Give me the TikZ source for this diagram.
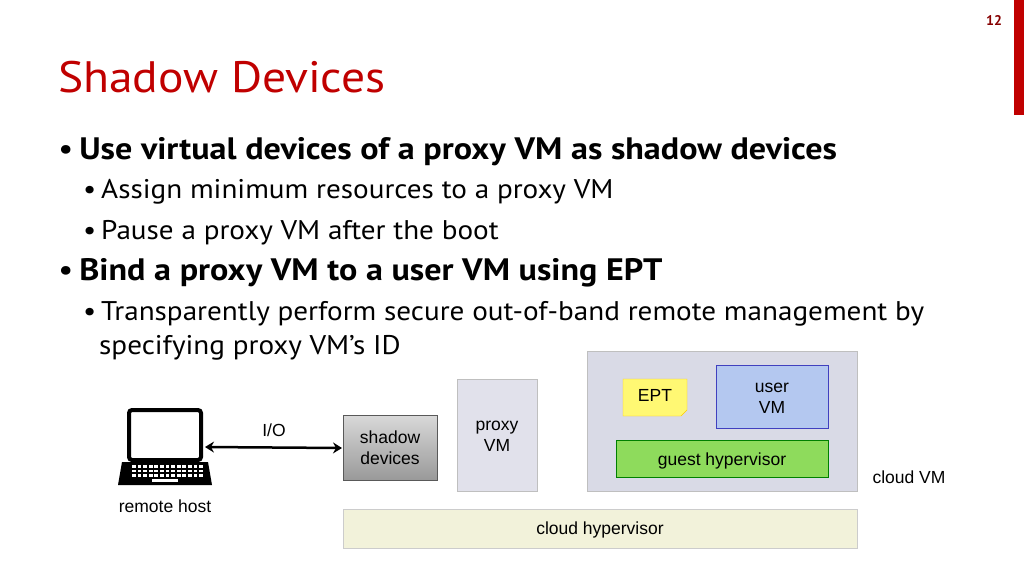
\documentclass[tikz,border=0pt]{standalone}
\usepackage{fontspec}
\usetikzlibrary{arrows.meta}
\setmainfont{PT Sans}
\newfontfamily\arialf{Liberation Sans}
\definecolor{cvmc}{HTML}{D9DAE6}
\definecolor{uvmc}{HTML}{B4C8F0}
\definecolor{ghc}{HTML}{8EDB5C}
\definecolor{chc}{HTML}{F2F2DA}
\definecolor{titc}{HTML}{C00000}
\newcommand{\hs}[1]{\scalebox{1.08}[1]{#1}}
\begin{document}
\begin{tikzpicture}[x=1pt,y=-1pt,
  lbl/.style={font=\arialf\fontsize{17.5}{21}\selectfont,align=center},
  bul/.style={anchor=west,inner sep=0pt}]
\useasboundingbox (0,0) rectangle (1024,576);
\fill[titc] (1014,0) rectangle (1024,115);
\node (pg) at (994,20) {\fontsize{14}{16}\selectfont\textcolor{titc!70!black}{\textbf{12}}};
\node[bul,text=titc] (title) at (58,77) {\hs{\fontsize{44}{48}\selectfont Shadow Devices}};
\node[bul] (b1) at (58,152) {\scalebox{1.1}[1]{\fontsize{31}{34}\selectfont\textbullet\,\textbf{Use virtual devices of a proxy VM as shadow devices}}};
\node[bul] (b2) at (83,192) {\hs{\fontsize{27}{30}\selectfont\textbullet\,Assign minimum resources to a proxy VM}};
\node[bul] (b3) at (83,233) {\hs{\fontsize{27}{30}\selectfont\textbullet\,Pause a proxy VM after the boot}};
\node[bul] (b4) at (58,273) {\scalebox{1.1}[1]{\fontsize{31}{34}\selectfont\textbullet\,\textbf{Bind a proxy VM to a user VM using EPT}}};
\node[bul] (b5) at (83,314) {\hs{\fontsize{27}{30}\selectfont\textbullet\,Transparently perform secure out-of-band remote management by}};
\node[bul] (b6) at (99,348) {\hs{\fontsize{27}{30}\selectfont specifying proxy VM's ID}};
% diagram
\draw[fill=chc,draw=black!20] (343,509) rectangle (857,548);
\node[lbl] (ch) at (600,530) {cloud hypervisor};
\draw[fill=cvmc,draw=black!25] (587,351) rectangle (857,491);
\node[lbl,anchor=west] (cvm) at (869,477) {cloud VM};
\draw[fill=cvmc!80!white,draw=black!25] (457,379) rectangle (537,491);
\node[lbl] (pvm) at (497,436) {proxy\\VM};
\shade[top color=black!15,bottom color=black!40] (343,415) rectangle (437,480);
\draw[black!65,line width=0.8pt] (343,415) rectangle (437,480);
\node[lbl] (sd) at (390,448) {shadow\\devices};
\draw[fill=yellow!55,draw=orange!40!yellow] (623,379) -- (687,379) -- (687,410) -- (681,416) -- (623,416) -- cycle;
\node[lbl] (ept) at (655,395) {EPT};
\draw[fill=uvmc,draw=blue!50!gray] (716,365) rectangle (828,428);
\node[lbl] (uvm) at (772,398) {user\\VM};
\draw[fill=ghc,draw=green!50!black] (616,440) rectangle (828,477);
\node[lbl] (gh) at (722,461) {guest hypervisor};
% laptop
\draw[line width=4pt,rounded corners=3pt] (129,410) rectangle (201,460);
\fill (122,462) -- (208,462) -- (212,485) -- (118,485) -- cycle;
\foreach \r in {0,1,2} \foreach \c in {0,...,12}
  \fill[white] (132+\c*5.6,465+\r*4.5) rectangle ++(3.8,2.8);
\fill[white] (152,479) rectangle (178,482);
\coordinate (lap) at (205,447);
\node[lbl] (rh) at (165,506) {remote host};
\draw[{Stealth[length=9pt,width=11pt,inset=3pt]}-{Stealth[length=9pt,width=11pt,inset=3pt]},line width=2.5pt] (lap) -- (sd.west -| 342,447);
\node[lbl] (io) at (274,430) {I/O};
\end{tikzpicture}
\end{document}
